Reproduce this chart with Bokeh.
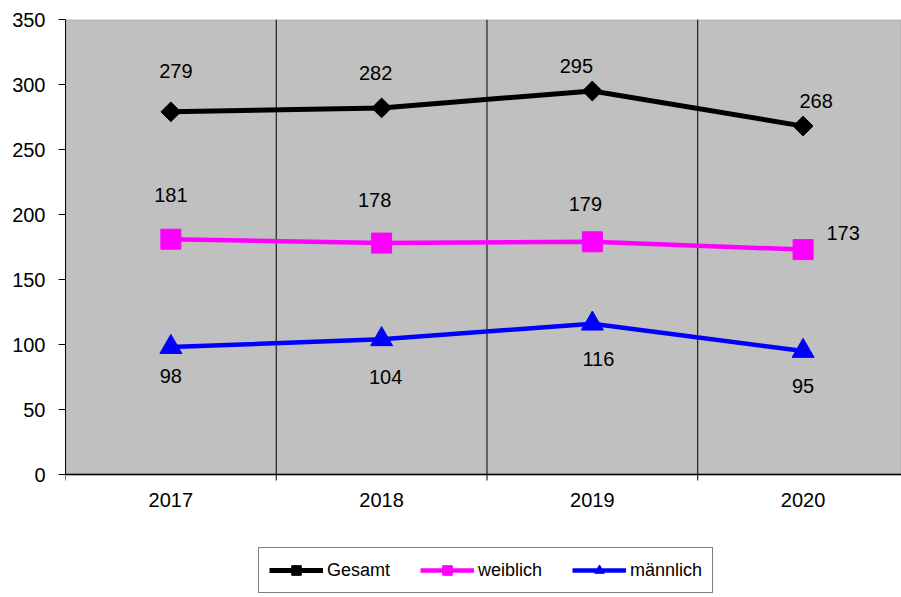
import math
from bokeh.plotting import figure
from bokeh.models import (Range1d, FixedTicker, Legend, LegendItem, ColumnDataSource,
                          BoxAnnotation, Span)
from bokeh.embed import file_html
from bokeh.resources import INLINE
from bokeh.core.properties import value

# ---- data ----
years = ["2017", "2018", "2019", "2020"]
gesamt = [279, 282, 295, 268]
weiblich = [181, 178, 179, 173]
maennlich = [98, 104, 116, 95]
y_ticks = [0, 50, 100, 150, 200, 250, 300, 350]
y_min, y_max = 0, 350

# ---- label offsets in screen pixels (styling) ----
ges_dx = [5, -6, -16, 13]
ges_dy = [-41, -35, -25, -25]
wei_dx = [0, -7, -7, 40]
wei_dy = [-44, -43, -38, -17]
mae_dx = [0, 4, 6, 0]
mae_dy = [29, 38, 35, 35]

FONT = "Liberation Sans"
xs = [i + 0.5 for i in range(len(years))]
bounds = list(range(len(years) + 1))

# plot area: 455 px for 0..350; frame is extended down to hold axis labels and legend
PX_PER_UNIT = 455 / (y_max - y_min)
FRAME_H = 597 - 19
y_bottom = y_max - FRAME_H / PX_PER_UNIT

p = figure(width=901, height=597,
           x_range=Range1d(0, 3.967), y_range=Range1d(y_bottom, y_max),
           output_backend="svg", toolbar_location=None,
           x_axis_location=None,
           min_border_left=65, min_border_right=0, min_border_top=19,
           min_border_bottom=0,
           background_fill_color="white", border_fill_color="white",
           outline_line_color=None)

# grey plot area
p.add_layout(BoxAnnotation(bottom=y_min, top=y_max, fill_color="#C0C0C0", fill_alpha=1,
                           line_color="#808080", line_width=2, level="underlay"))

# y axis
p.yaxis.ticker = FixedTicker(ticks=y_ticks)
p.yaxis.bounds = (y_min, y_max)
p.yaxis.axis_line_color = "black"
p.yaxis.axis_line_width = 1
p.yaxis.major_tick_out = 7
p.yaxis.major_tick_in = 0
p.yaxis.minor_tick_out = 0
p.yaxis.minor_tick_in = 0
p.yaxis.major_label_standoff = 13
p.yaxis.major_label_text_font = FONT
p.yaxis.major_label_text_font_size = "20px"
p.yaxis.major_label_text_color = "black"

# grids
for g in p.xgrid:
    g.visible = False
p.ygrid.ticker = FixedTicker(ticks=y_ticks[1:-1])
p.ygrid.grid_line_color = "#222222"
p.ygrid.grid_line_dash = "1 1"
p.ygrid.grid_line_width = 1
# vertical separators between categories, only inside the grey plot area
inner = bounds[1:-1]
p.segment(x0=inner, y0=[y_min] * len(inner), x1=inner, y1=[y_max] * len(inner),
          line_color="black", line_width=1)

# x axis (category axis): line at 0, tick marks at category boundaries, year labels
p.add_layout(Span(location=y_min, dimension="width", line_color="black", line_width=1.5))
p.ray(x=bounds, y=[y_min] * len(bounds), length=6, length_units="screen",
      angle=-math.pi / 2, line_color="black", line_width=1)
p.text(x=xs, y=[y_min] * len(xs), text=years, y_offset=25,
       text_align="center", text_baseline="middle",
       text_font=value(FONT), text_font_size="20px", text_color="black")

series = [
    ("Gesamt", gesamt, "black", "square", 14, math.pi / 4, 5, ges_dx, ges_dy),
    ("weiblich", weiblich, "#FF00FF", "square", 20, 0, 4.5, wei_dx, wei_dy),
    ("männlich", maennlich, "#0000FF", "triangle", 22, 0, 4.5, mae_dx, mae_dy),
]

items = []
for name, vals, col, marker, size, ang, lw, dx, dy in series:
    src = ColumnDataSource(dict(x=xs, y=vals, lab=[str(v) for v in vals], dx=dx, dy=dy))
    ln = p.line("x", "y", source=src, line_color=col, line_width=lw)
    sc = p.scatter("x", "y", source=src, marker=marker, size=size, angle=ang,
                   fill_color=col, line_color=col)
    p.text("x", "y", text="lab", source=src, x_offset="dx", y_offset="dy",
           text_align="center", text_baseline="middle",
           text_font=value(FONT), text_font_size="20px", text_color="black")
    items.append(LegendItem(label=name, renderers=[ln, sc]))

legend = Legend(items=items, orientation="horizontal", location=(193, 4),
                label_text_font=FONT, label_text_font_size="18px",
                label_text_color="black", label_standoff=4,
                glyph_width=54, glyph_height=24, spacing=30, padding=10,
                border_line_color="black", border_line_width=1,
                background_fill_color="white", background_fill_alpha=1,
                margin=0)
p.add_layout(legend, "center")

open("out.html", "w").write(file_html(p, INLINE))
